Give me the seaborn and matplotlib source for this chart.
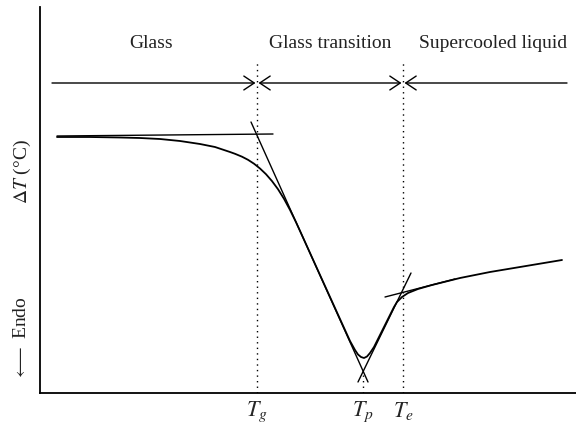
import matplotlib
matplotlib.use("Agg")
import matplotlib.pyplot as plt
import numpy as np
import pandas as pd
import seaborn as sns

# DSC trace (arbitrary units, y up = exo)
curve_x = [17, 50, 80, 100, 120, 140, 160, 175, 190, 195, 202, 208, 214, 220,
           226, 232, 238, 244, 250, 256, 262, 280, 300, 310, 315, 318, 321,
           324, 327, 330, 334, 340, 350, 354, 357, 362, 368, 378, 392, 400,
           420, 450, 480, 522]
curve_y = [256, 256, 255.5, 255, 254, 252, 249, 246, 241, 239.2, 236.3, 233.2,
           229.3, 224.5, 218.8, 211.9, 203.8, 194.2, 183.1, 170.8, 157.7, 118,
           74, 52, 43, 38.5, 36, 35, 36.5, 40, 46, 58, 78, 86, 91, 96, 100,
           104, 108, 110, 115, 121, 126, 133]

# tangent construction lines (start / end points)
tangent_names = ["glass", "glass", "drop", "drop", "rise", "rise", "liquid", "liquid"]
tangent_x = [17, 233, 211, 328, 318, 371, 345, 415]
tangent_y = [257, 259, 271, 11, 11, 120, 96, 114]

# characteristic temperatures
Tg, Tp, Te = 217, 323, 363
temp_labels = ["$T_g$", "$T_p$", "$T_e$"]

regions = ["Glass", "Glass transition", "Supercooled liquid"]
region_x = [111, 290, 453]


def main():
    sns.set_style("white")
    plt.rcParams["font.family"] = ["Liberation Serif", "DejaVu Serif"]
    plt.rcParams["mathtext.fontset"] = "stix"

    fig = plt.figure(figsize=(5.76, 4.26), dpi=100)
    ax = fig.add_axes([40 / 576, 33 / 426, 536 / 576, 386 / 426])

    tangents = pd.DataFrame({"seg": tangent_names, "x": tangent_x, "y": tangent_y})
    sns.lineplot(data=tangents, x="x", y="y", units="seg", estimator=None,
                 sort=False, color="black", lw=1.0, ax=ax)
    sns.lineplot(x=curve_x, y=curve_y, sort=False, estimator=None,
                 color="black", lw=1.3, ax=ax)

    dots = (0, (1, 3))
    ax.vlines([Tg, Te], 0, 331, colors="black", lw=1.0, linestyles=dots)
    ax.vlines(Tp, 0, 18, colors="black", lw=1.0, linestyles=dots)

    # region arrows
    arr_y = 310
    head = dict(color="black", lw=1.0, shrinkA=0, shrinkB=0, mutation_scale=10)
    one_way = "->,head_length=0.75,head_width=0.5"
    two_way = "<->,head_length=0.75,head_width=0.5"
    ax.annotate("", xy=(Tg - 1.5, arr_y), xytext=(12, arr_y),
                arrowprops=dict(arrowstyle=one_way, **head))
    ax.annotate("", xy=(Tg + 1.5, arr_y), xytext=(Te - 1.5, arr_y),
                arrowprops=dict(arrowstyle=two_way, **head))
    ax.annotate("", xy=(Te + 1.5, arr_y), xytext=(527, arr_y),
                arrowprops=dict(arrowstyle=one_way, **head))

    for name, xc in zip(regions, region_x):
        ax.text(xc, 350, name, ha="center", va="center", fontsize=14, color="#222222")

    ax.text(-18, 221, r"$\Delta T$ (°C)", rotation=90, ha="center", va="center",
            fontsize=14, color="#222222", clip_on=False)
    ax.text(-18, 55, r"$\longleftarrow$ Endo", rotation=90, ha="center", va="center",
            fontsize=14, color="#222222", clip_on=False)

    ax.set_xlim(0, 536)
    ax.set_ylim(0, 386)
    ax.set_xticks([Tg, Tp, Te])
    ax.set_xticklabels(temp_labels, fontsize=16)
    ax.set_yticks([])
    ax.tick_params(axis="x", length=0, pad=5)
    ax.set_xlabel("")
    ax.set_ylabel("")
    for side in ["top", "right"]:
        ax.spines[side].set_visible(False)
    for side in ["left", "bottom"]:
        ax.spines[side].set_color("black")
        ax.spines[side].set_linewidth(1.3)

    fig.savefig("out.png", dpi=100)


if __name__ == "__main__":
    main()
